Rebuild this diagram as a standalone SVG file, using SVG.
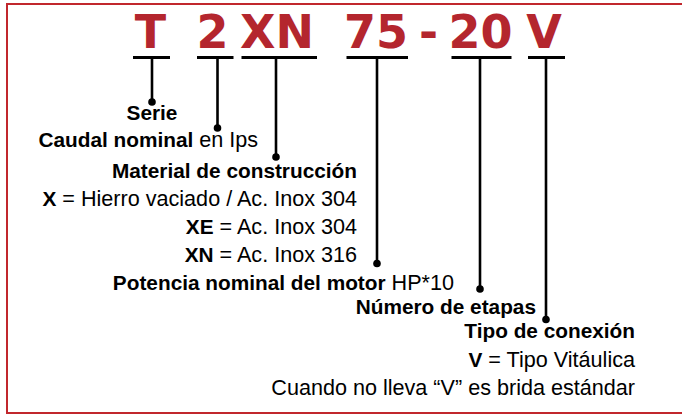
<svg xmlns="http://www.w3.org/2000/svg" width="682" height="415" viewBox="0 0 682 415">
<style>
.code{font-family:"DejaVu Sans",sans-serif;font-weight:bold;font-size:46px;fill:#B4262E;text-anchor:middle}
.t{font-family:"Liberation Sans",Arial,sans-serif;font-size:21.6px;fill:#000}
.b{font-weight:bold;font-size:20.8px}
.ul{stroke:#000;stroke-width:3}
.vl{stroke:#000;stroke-width:2.6}
.dot{fill:#000}
</style>
<rect x="7" y="4" width="690" height="409" fill="#fff" stroke="#C1272D" stroke-width="2"/>
<g id="code">
<text class="code" x="150.5" y="48">T</text>
<text class="code" x="212.5" y="48">2</text>
<text class="code" x="277" y="48">XN</text>
<text class="code" x="376" y="48">75</text>
<text class="code" x="428.5" y="48">-</text>
<text class="code" x="480.5" y="48">20</text>
<text class="code" x="544" y="48">V</text>
</g>
<g id="connectors">
<line class="ul" x1="133" y1="57.5" x2="170" y2="57.5"/>
<line class="ul" x1="197" y1="57.5" x2="233.5" y2="57.5"/>
<line class="ul" x1="241.5" y1="57.5" x2="317" y2="57.5"/>
<line class="ul" x1="346.5" y1="57.5" x2="408" y2="57.5"/>
<line class="ul" x1="451.5" y1="57.5" x2="511.5" y2="57.5"/>
<line class="ul" x1="528" y1="57.5" x2="565" y2="57.5"/>
<line class="vl" x1="152" y1="57.5" x2="152" y2="102"/>
<circle class="dot" cx="152" cy="102" r="3.8"/>
<line class="vl" x1="217.5" y1="57.5" x2="217.5" y2="128"/>
<circle class="dot" cx="217.5" cy="128" r="3.8"/>
<line class="vl" x1="276" y1="57.5" x2="276" y2="157"/>
<circle class="dot" cx="276" cy="157" r="3.8"/>
<line class="vl" x1="377" y1="57.5" x2="377" y2="263.5"/>
<circle class="dot" cx="377" cy="263.5" r="3.8"/>
<line class="vl" x1="480" y1="57.5" x2="480" y2="289"/>
<circle class="dot" cx="480" cy="289" r="3.8"/>
<line class="vl" x1="546" y1="57.5" x2="546" y2="319.5"/>
<circle class="dot" cx="546" cy="319.5" r="3.8"/>
</g>
<g id="serie"><text class="t b" x="152" y="120" text-anchor="middle">Serie</text></g>
<g id="caudal"><text class="t" x="38.5" y="147"><tspan class="b">Caudal nominal</tspan> en Ips</text></g>
<g id="material">
<text class="t b" x="357" y="177.5" text-anchor="end">Material de construcción</text>
<text class="t" x="357" y="205.5" text-anchor="end"><tspan class="b">X</tspan> = Hierro vaciado / Ac. Inox 304</text>
<text class="t" x="357" y="233.5" text-anchor="end"><tspan class="b">XE</tspan> = Ac. Inox 304</text>
<text class="t" x="357" y="261.5" text-anchor="end"><tspan class="b">XN</tspan> = Ac. Inox 316</text>
</g>
<g id="potencia"><text class="t" x="454" y="290" text-anchor="end"><tspan class="b">Potencia nominal del motor</tspan> HP*10</text></g>
<g id="etapas"><text class="t b" x="536" y="313.5" text-anchor="end">Número de etapas</text></g>
<g id="conexion">
<text class="t b" x="635" y="338" text-anchor="end">Tipo de conexión</text>
<text class="t" x="635" y="366.5" text-anchor="end"><tspan class="b">V</tspan> = Tipo Vitáulica</text>
<text class="t" x="635" y="395" text-anchor="end">Cuando no lleva “V” es brida estándar</text>
</g>
</svg>
